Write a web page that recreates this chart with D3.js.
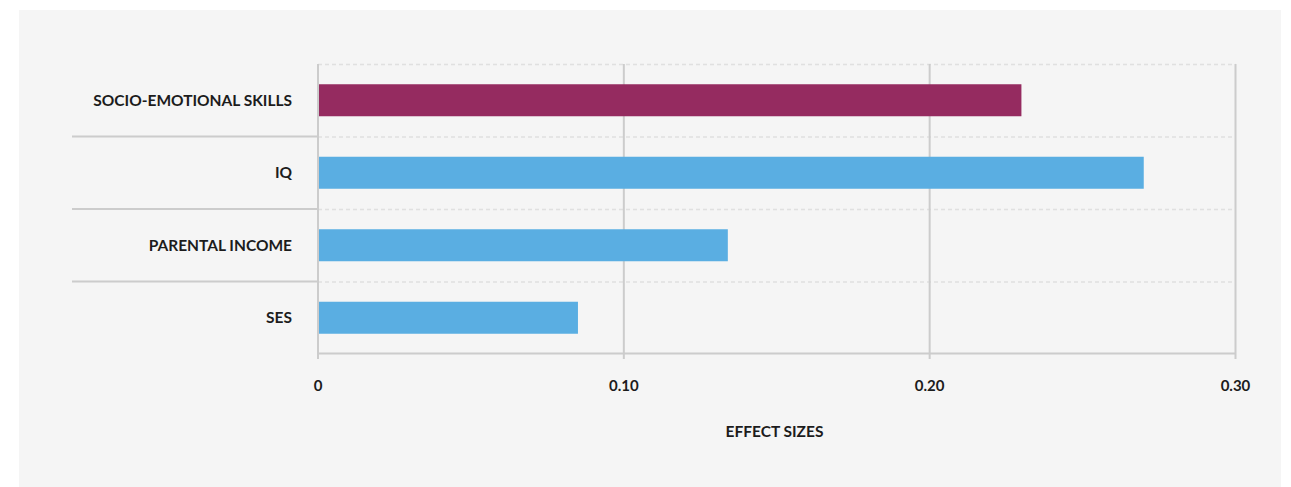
<!DOCTYPE html>
<html>
<head>
<meta charset="utf-8">
<script src="https://cdn.jsdelivr.net/npm/d3@7"></script>
<style>
  body { margin: 0; background: #fff; }
  svg { display: block; font-family: Lato, "Open Sans", sans-serif; }
  .lbl { font-weight: 700; fill: #1c1c1c; }
</style>
</head>
<body>
<svg id="chart" width="1291" height="487"></svg>
<script>
const categories = ['SOCIO-EMOTIONAL SKILLS', 'IQ', 'PARENTAL INCOME', 'SES']
const values = [0.23, 0.27, 0.134, 0.085]
const highlight = ['SOCIO-EMOTIONAL SKILLS']
const ticks = [0, 0.1, 0.2, 0.3]
const tickLabels = ['0', '0.10', '0.20', '0.30']
const xTitle = 'EFFECT SIZES'

const plot = { left: 318, right: 1235.5, top: 64, bottom: 354 }
const grey = '#cccccc'

const svg = d3.select('#chart')

svg.append('rect')
    .attr('x', 19).attr('y', 10)
    .attr('width', 1262).attr('height', 477)
    .attr('fill', '#f5f5f5')

const x = d3.scaleLinear().domain([0, 0.3]).range([plot.left, plot.right])
const y = d3.scaleBand().domain(categories).range([plot.top, plot.bottom])

// dashed band separators inside plot
svg.append('g').selectAll('line')
    .data(categories)
    .join('line')
    .attr('x1', plot.left).attr('x2', plot.right)
    .attr('y1', d => y(d) + 0.5).attr('y2', d => y(d) + 0.5)
    .attr('stroke', '#e0e0e0')
    .attr('stroke-width', 1.5)
    .attr('stroke-dasharray', '4,3')

// solid separators on the label side
svg.append('g').selectAll('line')
    .data(categories.slice(1))
    .join('line')
    .attr('x1', 72).attr('x2', plot.left)
    .attr('y1', d => y(d)).attr('y2', d => y(d))
    .attr('stroke', grey)
    .attr('stroke-width', 2)

// vertical gridlines / ticks
svg.append('g').selectAll('line')
    .data(ticks)
    .join('line')
    .attr('x1', d => x(d)).attr('x2', d => x(d))
    .attr('y1', plot.top).attr('y2', plot.bottom + 5)
    .attr('stroke', grey)
    .attr('stroke-width', 2)

// bottom axis line
svg.append('line')
    .attr('x1', plot.left).attr('x2', plot.right)
    .attr('y1', plot.bottom - 0.5).attr('y2', plot.bottom - 0.5)
    .attr('stroke', grey)
    .attr('stroke-width', 2)

// bars
const barH = 32
svg.append('g').selectAll('rect')
    .data(categories)
    .join('rect')
    .attr('x', x(0) + 1)
    .attr('y', d => y(d) + y.bandwidth() / 2 - barH / 2)
    .attr('width', (d, i) => x(values[i]) - x(0) - 1)
    .attr('height', barH)
    .attr('fill', d => highlight.includes(d) ? '#952b60' : '#5aaee2')

// category labels
svg.append('g').selectAll('text')
    .data(categories)
    .join('text')
    .attr('class', 'lbl')
    .attr('x', 292)
    .attr('y', d => y(d) + y.bandwidth() / 2)
    .attr('dy', '0.35em')
    .attr('text-anchor', 'end')
    .style('font-size', '15.5px')
    .text(d => d)

// tick labels
svg.append('g').selectAll('text')
    .data(ticks)
    .join('text')
    .attr('class', 'lbl')
    .attr('x', d => x(d))
    .attr('y', 386)
    .attr('dy', '0.35em')
    .attr('text-anchor', 'middle')
    .style('font-size', '15px')
    .text((d, i) => tickLabels[i])

svg.append('text')
    .attr('class', 'lbl')
    .attr('x', 774.5)
    .attr('y', 432)
    .attr('dy', '0.35em')
    .attr('text-anchor', 'middle')
    .style('font-size', '15.5px')
    .text(xTitle)
</script>
</body>
</html>
